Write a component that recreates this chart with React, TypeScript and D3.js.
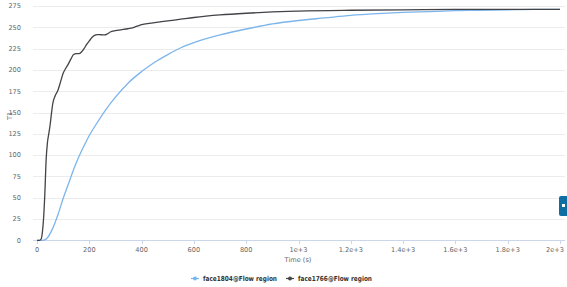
import React from "react";
import * as d3 from "d3";

const blueTimes = [0, 20, 30, 40, 60, 80, 100, 120, 140, 160, 180, 200, 230, 260, 300, 350, 400, 450, 500, 550, 600, 700, 800, 900, 1000, 1100, 1200, 1300, 1400, 1500, 1600, 1700, 1800, 1900, 2000];
const blueValues = [0, 0, 0.5, 3, 14, 30, 49, 66, 83, 98, 111, 123, 138, 152, 168, 185, 198, 209, 218, 226, 232, 241, 248, 254, 258, 261, 264, 266, 267.5, 268.5, 269.5, 270, 270.5, 271, 271];

const blackTimes = [0, 10, 15, 20, 25, 30, 35, 40, 45, 50, 55, 60, 70, 80, 90, 100, 110, 120, 130, 140, 150, 160, 170, 180, 190, 200, 210, 220, 230, 240, 250, 260, 270, 280, 300, 320, 340, 360, 380, 400, 450, 500, 550, 600, 700, 800, 900, 1000, 1200, 1400, 1600, 1800, 2000];
const blackValues = [0, 0, 1, 8, 25, 55, 95, 115, 125, 135, 148, 160, 170, 176, 186, 196, 202, 207, 213, 218, 219, 219, 221, 225, 230, 234, 238, 240.5, 241.5, 241.5, 241, 241, 242.5, 244.5, 246, 247, 248, 249, 251, 253, 255.5, 257.5, 259.5, 261.5, 264.5, 266.5, 268, 269, 270, 270.5, 271, 271, 271];

const xTicks = [0, 200, 400, 600, 800, 1000, 1200, 1400, 1600, 1800, 2000];
const xTickLabels = ["0", "200", "400", "600", "800", "1e+3", "1.2e+3", "1.4e+3", "1.6e+3", "1.8e+3", "2e+3"];
const yTicks = [0, 25, 50, 75, 100, 125, 150, 175, 200, 225, 250, 275];

const seriesNames = ["face1804@Flow region", "face1766@Flow region"];
const seriesColors = ["#7cb5ec", "#434348"];

export default function App() {
  const W = 567, H = 287;
  const x = d3.scaleLinear().domain([0, 2000]).range([37, 560]);
  const y = d3.scaleLinear().domain([0, 275]).range([240.3, 6]);
  const gridX0 = 33, gridX1 = 565;
  const font = "'DejaVu Sans', 'Lucida Grande', sans-serif";

  const line = d3.line<[number, number]>()
    .x(d => x(d[0]))
    .y(d => y(d[1]))
    .curve(d3.curveMonotoneX);

  const blueData: [number, number][] = blueTimes.map((t, i) => [t, blueValues[i]]);
  const blackData: [number, number][] = blackTimes.map((t, i) => [t, blackValues[i]]);

  const legendItems = [
    { name: seriesNames[0], color: seriesColors[0], x: 195 },
    { name: seriesNames[1], color: seriesColors[1], x: 290 },
  ];

  return (
    <svg width={W} height={H} style={{ position: "absolute", left: 0, top: 0, background: "#fff" }}>
      <rect x={0} y={0} width={W} height={H} fill="#fff" />
      {yTicks.map(t => (
        <line key={"g" + t} x1={gridX0} x2={gridX1} y1={Math.round(y(t)) + 0.5} y2={Math.round(y(t)) + 0.5}
          stroke={t === 0 ? "#ccd6eb" : "#ececec"} strokeWidth={1} />
      ))}
      {xTicks.map(t => (
        <line key={"xt" + t} x1={Math.round(x(t)) + 0.5} x2={Math.round(x(t)) + 0.5} y1={241} y2={244} stroke="#ccd6eb" strokeWidth={1} />
      ))}
      {yTicks.map(t => (
        <text key={"yl" + t} x={21} y={y(t) + 2.3} textAnchor="end" fontSize={6.6} fill="#666" fontFamily={font}>{t}</text>
      ))}
      {xTicks.map((t, i) => {
        const last = i === xTicks.length - 1;
        return (
          <text key={"xl" + t} x={last ? 564 : x(t)} y={251.5} textAnchor={last ? "end" : "middle"} fontSize={6.6} fill="#666" fontFamily={font}>{xTickLabels[i]}</text>
        );
      })}
      <text x={298} y={262} textAnchor="middle" fontSize={6.6} fill="#666" fontFamily={font}>Time (s)</text>
      <text transform="translate(12,116) rotate(-90)" textAnchor="middle" fontSize={6.6} fill="#666" fontFamily={font}>T1</text>
      <path d={line(blueData) || ""} fill="none" stroke={seriesColors[0]} strokeWidth={1.3} />
      <path d={line(blackData) || ""} fill="none" stroke={seriesColors[1]} strokeWidth={1.3} />
      {legendItems.map(it => (
        <g key={it.name}>
          <line x1={it.x - 4} x2={it.x + 4} y1={278.5} y2={278.5} stroke={it.color} strokeWidth={1.2} />
          <circle cx={it.x} cy={278.5} r={2} fill={it.color} />
          <text x={it.x + 8} y={281} fontSize={7} fontWeight="bold" fill="#333" fontFamily={font}
            textLength={74} lengthAdjust="spacingAndGlyphs">{it.name}</text>
        </g>
      ))}
      <path d="M 567 196 L 561 196 Q 559 196 559 198 L 559 214 Q 559 216 561 216 L 567 216 Z" fill="#0d6ea3" />
      <rect x={562} y={204} width={3} height={3} fill="#fff" />
    </svg>
  );
}
